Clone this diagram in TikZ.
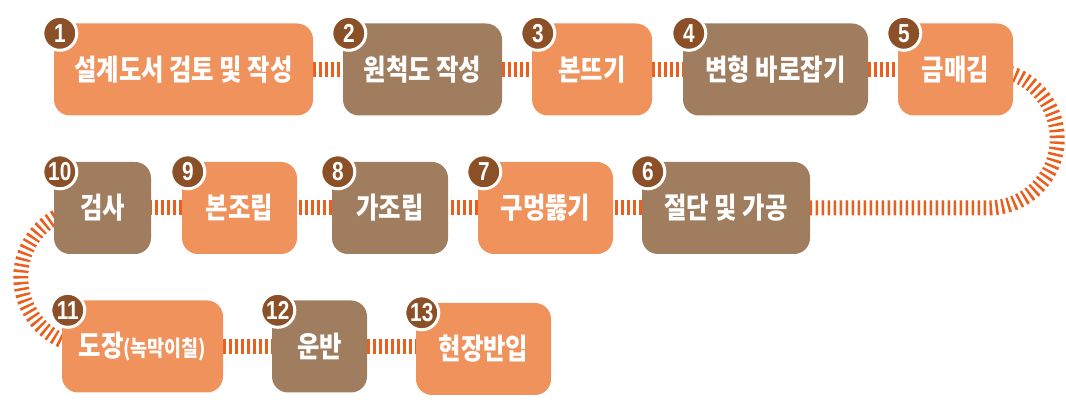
\documentclass[tikz,border=0pt]{standalone}
\usepackage{fontspec}
\newfontfamily\krfont{Noto Sans CJK KR}[FakeStretch=0.84]
\newfontfamily\numfont{Liberation Sans}[FakeStretch=0.8]
\usetikzlibrary{backgrounds}
\definecolor{boxorange}{HTML}{F0925C}
\definecolor{boxbrown}{HTML}{A07D5E}
\definecolor{badgebrown}{HTML}{8C5028}
\definecolor{linkred}{HTML}{EB5F1E}

\begin{document}
\begin{tikzpicture}[x=1pt,y=1pt,
    stage/.style={rounded corners=16pt, minimum height=92pt, inner sep=0pt, text=white,
        font=\krfont\bfseries\fontsize{29}{29}\selectfont},
    obox/.style={stage, fill=boxorange},
    bbox/.style={stage, fill=boxbrown},
    badge/.style={circle, fill=badgebrown, draw=white, line width=3pt, minimum size=34pt,
        inner sep=0pt, text=white, font=\numfont\bfseries\fontsize{26}{26}\selectfont},
    link/.style={linkred, line width=15pt, dash pattern=on 2.5pt off 3.5pt}]
    \useasboundingbox (0,0) rectangle (1066,415);

    % row 1
    \node[obox, minimum width=259pt] (st1) at (183.5,345.5) {설계도서 검토 및 작성};
    \node[bbox, minimum width=159pt] (st2) at (422.5,345.5) {원척도 작성};
    \node[obox, minimum width=120pt] (st3) at (592,345.5) {본뜨기};
    \node[bbox, minimum width=185pt] (st4) at (775.5,345.5) {변형 바로잡기};
    \node[obox, minimum width=115pt] (st5) at (955.5,345.5) {금매김};
    % row 2
    \node[bbox, minimum width=168pt] (st6) at (726,207) {절단 및 가공};
    \node[obox, minimum width=135pt] (st7) at (545.5,207) {구멍뚫기};
    \node[bbox, minimum width=116pt] (st8) at (390,207) {가조립};
    \node[obox, minimum width=115pt] (st9) at (239.5,207) {본조립};
    \node[bbox, minimum width=97pt] (st10) at (102.5,207) {검사};
    % row 3
    \node[obox, minimum width=161pt] (st11) at (142.5,68.5) {도장{\fontsize{22}{22}\selectfont(녹막이칠)}};
    \node[bbox, minimum width=95pt] (st12) at (319.5,68.5) {운반};
    \node[obox, minimum width=135pt] (st13) at (483.5,66) {현장반입};

    \foreach \n in {1,...,13}
        \node[badge] (nb\n) at ([xshift=6pt,yshift=-10pt]st\n.north west) {\n};

    \coordinate (turnR) at (988,345.5);
    \coordinate (turnL) at (90,207);
    \begin{scope}[on background layer]
        \foreach \a/\b in {st1/st2,st2/st3,st3/st4,st4/st5,st6/st7,st7/st8,st8/st9,st9/st10,st11/st12}
            \draw[link] (\a) -- (\b);
        \draw[link] (st12.east) -- (st13.west |- st12.east);
        \draw[link] (st5.center) -- (turnR) arc[start angle=90, end angle=-90, radius=69.25] -- (st6.center);
        \draw[link] (st10.center) -- (turnL) arc[start angle=90, end angle=270, radius=69.25] -- (st11.center);
    \end{scope}
\end{tikzpicture}
\end{document}
